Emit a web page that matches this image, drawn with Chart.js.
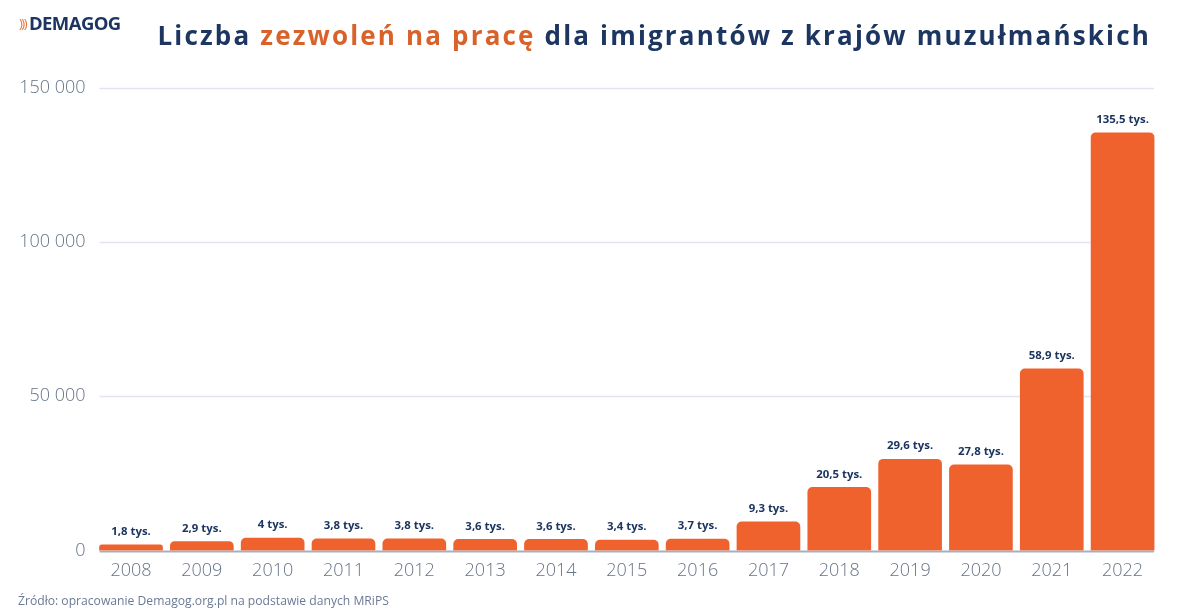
<!DOCTYPE html>
<html lang="pl">
<head>
<meta charset="utf-8">
<title>Liczba zezwoleń na pracę</title>
<script src="https://cdn.jsdelivr.net/npm/chart.js@4"></script>
<style>
    html, body { margin: 0; padding: 0; background: #fff; }
    #wrap { position: relative; width: 1200px; height: 614px; overflow: hidden; font-family: "Open Sans", sans-serif; }
    canvas { position: absolute; left: 0; top: 0; }
    #logo { position: absolute; left: 19px; top: 9px; font-size: 18.5px; line-height: 28px; font-weight: 700; color: #1c3661; letter-spacing: -0.6px; }
    #logo span { color: #e8743b; font-size: 13px; font-weight: 400; letter-spacing: -1.5px; margin-right: 3px; position: relative; top: -2px; }
    #title { position: absolute; right: 49px; top: 16px; font-size: 26px; line-height: 38px; font-weight: 700; color: #1c3661; letter-spacing: 2.17px; white-space: nowrap; }
    #title span { color: #d9622b; }
    #source { position: absolute; left: 18px; top: 592px; font-size: 12.15px; line-height: 18px; color: #6b7a94; white-space: nowrap; }
</style>
</head>
<body>
<div id="wrap">
    <canvas id="barChart" width="1200" height="614"></canvas>
    <div id="logo"><span>)))</span>DEMAGOG</div>
    <div id="title">Liczba <span>zezwoleń na pracę</span> dla imigrantów z krajów muzułmańskich</div>
    <div id="source">Źródło: opracowanie Demagog.org.pl na podstawie danych MRiPS</div>
</div>
<script>
"use strict";

const years = ["2008", "2009", "2010", "2011", "2012", "2013", "2014", "2015", "2016", "2017", "2018", "2019", "2020", "2021", "2022"];
const permits = [1800, 2900, 4000, 3800, 3800, 3600, 3600, 3400, 3700, 9300, 20500, 29600, 27800, 58900, 135500];
const valueLabels = ["1,8 tys.", "2,9 tys.", "4 tys.", "3,8 tys.", "3,8 tys.", "3,6 tys.", "3,6 tys.", "3,4 tys.", "3,7 tys.", "9,3 tys.", "20,5 tys.", "29,6 tys.", "27,8 tys.", "58,9 tys.", "135,5 tys."];
const yTicks = [0, 50000, 100000, 150000];

const tickColor = "#667488";
const navy = "#1c3661";

// Grid lines stop at the outer bar edges, so they are drawn here and not by the axis
const gridPlugin = {
    id: "shortGrid",
    beforeDatasetsDraw(chart) {
        const { ctx, scales: { y } } = chart;
        const bars = chart.getDatasetMeta(0).data;
        const left = bars[0].x - bars[0].width / 2;
        const right = bars[bars.length - 1].x + bars[bars.length - 1].width / 2;
        ctx.save();
        yTicks.forEach(tick => {
            const py = Math.round(y.getPixelForValue(tick)) + 0.5;
            ctx.strokeStyle = tick === 0 ? "#a7afbd" : "#e2e5f1";
            ctx.lineWidth = tick === 0 ? 2 : 1.5;
            ctx.beginPath();
            ctx.moveTo(left, py);
            ctx.lineTo(right, py);
            ctx.stroke();
        });
        ctx.restore();
    }
};

// Value labels above the bars
const labelPlugin = {
    id: "valueLabels",
    afterDatasetsDraw(chart) {
        const { ctx } = chart;
        ctx.save();
        ctx.font = "700 11.4px 'Open Sans', sans-serif";
        ctx.fillStyle = navy;
        ctx.textAlign = "center";
        ctx.textBaseline = "middle";
        chart.getDatasetMeta(0).data.forEach((bar, i) => {
            ctx.fillText(valueLabels[i], bar.x, bar.y - 13);
        });
        ctx.restore();
    }
};

new Chart(document.getElementById("barChart"), {
    type: "bar",
    data: {
        labels: years,
        datasets: [{
            data: permits,
            backgroundColor: "#ef622e",
            barThickness: 63,
            borderRadius: { topLeft: 5, topRight: 5 },
            borderSkipped: "bottom"
        }]
    },
    options: {
        responsive: false,
        animation: false,
        layout: { padding: { left: 0, right: 42, top: 88, bottom: 0 } },
        plugins: {
            legend: { display: false },
            tooltip: { enabled: false }
        },
        scales: {
            x: {
                grid: { display: false },
                border: { display: false },
                ticks: {
                    color: tickColor,
                    font: { family: "'Open Sans', sans-serif", size: 18, weight: 300 },
                    padding: 2,
                    maxRotation: 0
                },
                afterFit(scale) { scale.height = 63.5; }
            },
            y: {
                min: 0,
                max: 150000,
                grid: { display: false },
                border: { display: false },
                afterBuildTicks(scale) { scale.ticks = yTicks.map(value => ({ value })); },
                ticks: {
                    color: tickColor,
                    font: { family: "'Open Sans', sans-serif", size: 18, weight: 300 },
                    padding: 2,
                    callback: value => String(value).replace(/\B(?=(\d{3})+$)/g, " ")
                },
                afterFit(scale) { scale.width = 95.6; }
            }
        }
    },
    plugins: [gridPlugin, labelPlugin]
});
</script>
</body>
</html>
